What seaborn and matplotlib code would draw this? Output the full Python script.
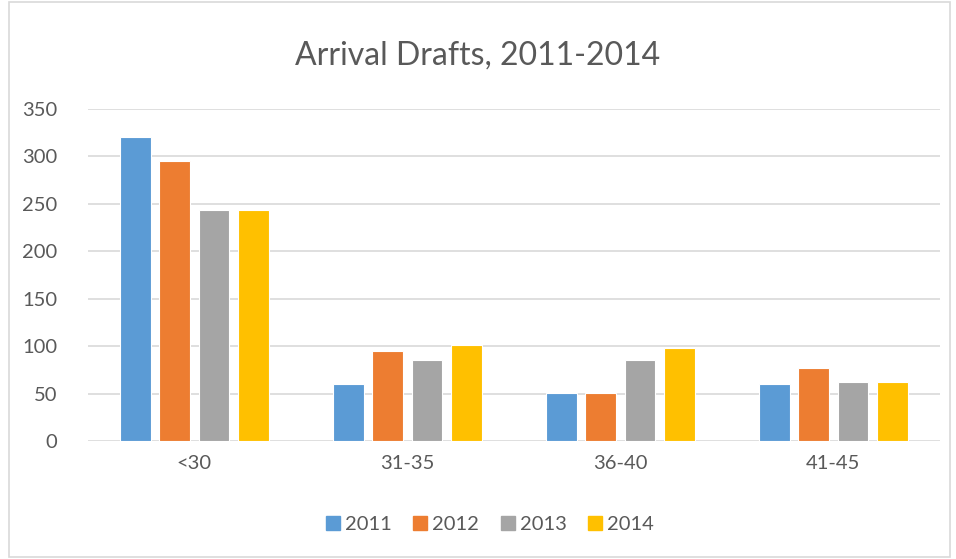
import matplotlib
matplotlib.use("Agg")
import matplotlib.pyplot as plt
import seaborn as sns
import pandas as pd
from matplotlib.patches import Rectangle
from matplotlib.lines import Line2D

categories = ["<30", "31-35", "36-40", "41-45"]
years = ["2011", "2012", "2013", "2014"]
values_2011 = [321, 60, 51, 60]
values_2012 = [295, 95, 51, 77]
values_2013 = [244, 85, 85, 62]
values_2014 = [244, 101, 98, 62]
colors = ["#5B9BD5", "#ED7D31", "#A5A5A5", "#FFC000"]
yticks = [0, 50, 100, 150, 200, 250, 300, 350]

rows = []
for yr, vals in zip(years, [values_2011, values_2012, values_2013, values_2014]):
    for c, v in zip(categories, vals):
        rows.append({"Age": c, "Year": yr, "Count": v})
df = pd.DataFrame(rows)

sns.set_theme(style="white")
plt.rcParams["font.family"] = ["Lato", "DejaVu Sans"]
text_col = "#595959"

fig = plt.figure(figsize=(9.56, 5.59), dpi=100)
ax = fig.add_axes([0.092, 0.211, 0.891, 0.594])

sns.barplot(data=df, x="Age", y="Count", hue="Year", order=categories,
            hue_order=years, palette=colors, saturation=1, width=0.74, gap=0.22,
            edgecolor="white", linewidth=0.8, ax=ax, legend=False)

ax.set_ylim(0, 350)
ax.set_yticks(yticks)
ax.set_xlim(-0.5, 3.5)
ax.yaxis.grid(True, color="#D9D9D9", linewidth=1.2)
ax.set_axisbelow(True)
for s in ax.spines.values():
    s.set_visible(False)
ax.set_xlabel("")
ax.set_ylabel("")
ax.tick_params(axis="both", length=0, labelsize=14.5, labelcolor=text_col)
ax.tick_params(axis="y", pad=22)
ax.tick_params(axis="x", pad=10)

fig.text(0.5, 0.9, "Arrival Drafts, 2011-2014", ha="center", va="center",
         fontsize=23, color=text_col)

handles = [Line2D([0], [0], marker="s", linestyle="none", markersize=10,
                  markerfacecolor=c, markeredgecolor=c) for c in colors]
fig.legend(handles, years, loc="center", bbox_to_anchor=(0.512, 0.061), ncol=4,
           frameon=False, fontsize=14.5, labelcolor=text_col, handletextpad=0.2,
           columnspacing=1.0, handlelength=0.8)

fig.patches.append(Rectangle((0.009, 0.004), 0.985, 0.992, transform=fig.transFigure,
                             fill=False, edgecolor="#D9D9D9", linewidth=1.2))

fig.savefig("out.png", dpi=100)
